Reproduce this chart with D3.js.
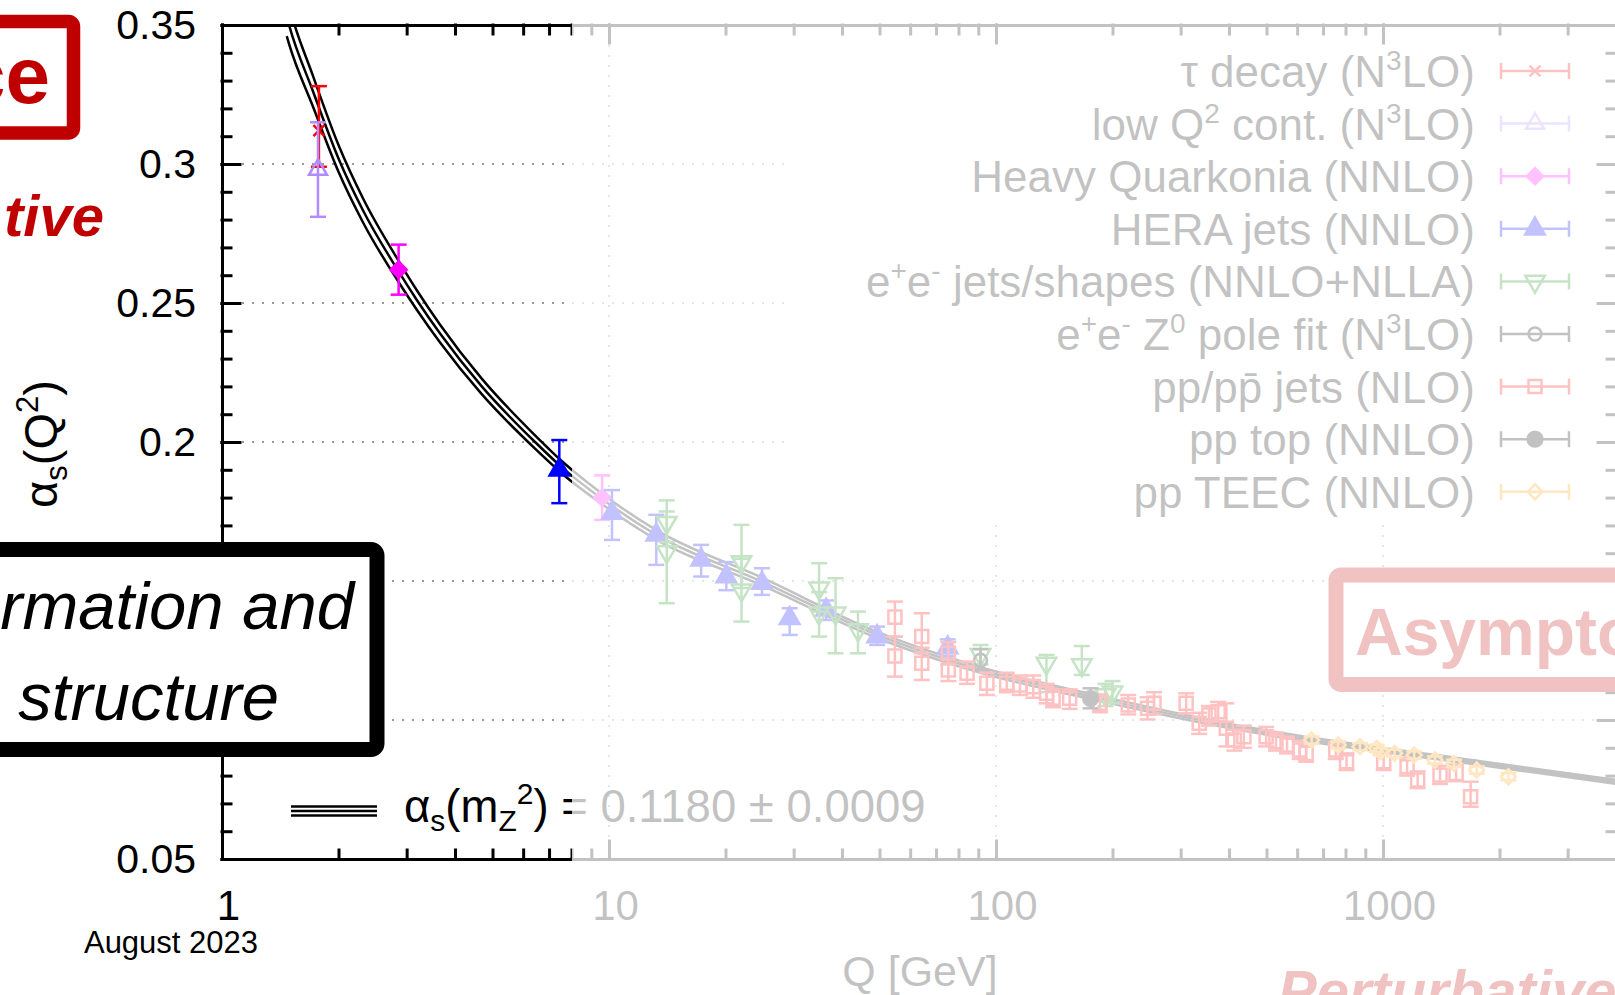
<!DOCTYPE html>
<html>
<head>
<meta charset="utf-8">
<script src="https://cdn.jsdelivr.net/npm/d3@7"></script>
<style>
body { margin: 0; background: #fff; }
svg text { font-family: "Liberation Sans", Arial, sans-serif; }
</style>
</head>
<body>
<div id="chart"></div>
<script>
var width = 1615;
var height = 995;

// world average running and its band half-width
var curveQ =     [1.47, 1.49, 1.72, 2.0, 2.32, 2.87, 3.19, 3.66, 4.69, 6.44, 7.61, 9.6, 13.25, 24.85, 49.3, 91.2, 176.6, 409, 1803, 3981];
var curveAlpha = [0.353, 0.350, 0.326, 0.302, 0.283, 0.261, 0.251, 0.239, 0.220, 0.200, 0.1905, 0.1795, 0.1666, 0.1498, 0.1306, 0.118, 0.1084, 0.0976, 0.0844, 0.0778];
var curveErr =   [0.0070, 0.0068, 0.0055, 0.0048, 0.0043, 0.0038, 0.0035, 0.0032, 0.0028, 0.0024, 0.0022, 0.0019, 0.0017, 0.0014, 0.0011, 0.0010, 0.0009, 0.0008, 0.0007, 0.0007];
var alphaMz = 0.1180;
var alphaMzErr = 0.0009;

// measurements: q = Q [GeV], a = alpha_s, lo/hi = error bar ends
var tauDecay = [{q: 1.78, a: 0.312, lo: 0.299, hi: 0.328}];
var lowQ2 = [{q: 1.77, a: 0.298, lo: 0.281, hi: 0.315}];
var quarkonia = [
  {q: 2.86, a: 0.262, lo: 0.253, hi: 0.271},
  {q: 9.6, a: 0.180, lo: 0.172, hi: 0.188}
];
var heraJets = [
  {q: 7.44, a: 0.190, lo: 0.178, hi: 0.2007},
  {q: 10.18, a: 0.1744, lo: 0.1648, hi: 0.1827},
  {q: 13.25, a: 0.1666, lo: 0.1558, hi: 0.1738},
  {q: 17.3, a: 0.1576, lo: 0.1516, hi: 0.1630},
  {q: 20.1, a: 0.1516, lo: 0.1467, hi: 0.1568},
  {q: 24.85, a: 0.1492, lo: 0.1450, hi: 0.1546},
  {q: 29.3, a: 0.1366, lo: 0.1306, hi: 0.1402},
  {q: 36.4, a: 0.1396, lo: 0.1360, hi: 0.1430},
  {q: 49.3, a: 0.1300, lo: 0.1270, hi: 0.1336},
  {q: 75.0, a: 0.1260, lo: 0.1230, hi: 0.1290}
];
var eeJets = [
  {q: 14.1, a: 0.171, lo: 0.164, hi: 0.179},
  {q: 14.1, a: 0.1605, lo: 0.142, hi: 0.175},
  {q: 22.0, a: 0.1569, lo: 0.1475, hi: 0.1702},
  {q: 22.0, a: 0.1467, lo: 0.1354, hi: 0.158},
  {q: 34.9, a: 0.1474, lo: 0.1390, hi: 0.1564},
  {q: 34.9, a: 0.1384, lo: 0.1300, hi: 0.146},
  {q: 38.5, a: 0.1384, lo: 0.1240, hi: 0.1510},
  {q: 44.0, a: 0.1324, lo: 0.1240, hi: 0.1390},
  {q: 91.2, a: 0.1235, lo: 0.1200, hi: 0.1270},
  {q: 135, a: 0.1204, lo: 0.1100, hi: 0.1234},
  {q: 166.6, a: 0.1198, lo: 0.1162, hi: 0.1266},
  {q: 191.8, a: 0.1090, lo: 0.1050, hi: 0.1130},
  {q: 200, a: 0.1100, lo: 0.1060, hi: 0.1140}
];
var zPole = [{q: 91.2, a: 0.1215, lo: 0.1180, hi: 0.1255}];
var ppJets = [
  {q: 54.8, a: 0.137, lo: 0.130, hi: 0.1426}, {q: 54.8, a: 0.123, lo: 0.1156, hi: 0.130},
  {q: 64.3, a: 0.130, lo: 0.124, hi: 0.1384}, {q: 64.3, a: 0.1204, lo: 0.1144, hi: 0.126},
  {q: 75.3, a: 0.124, lo: 0.120, hi: 0.128}, {q: 75.3, a: 0.118, lo: 0.114, hi: 0.122},
  {q: 84.2, a: 0.1168, lo: 0.113, hi: 0.121}, {q: 94.7, a: 0.1132, lo: 0.109, hi: 0.117},
  {q: 106.6, a: 0.1132, lo: 0.110, hi: 0.117}, {q: 115.3, a: 0.1126, lo: 0.109, hi: 0.116},
  {q: 124.8, a: 0.112, lo: 0.108, hi: 0.116}, {q: 135.1, a: 0.1096, lo: 0.106, hi: 0.113},
  {q: 140.4, a: 0.1078, lo: 0.1046, hi: 0.1110}, {q: 155, a: 0.1078, lo: 0.104, hi: 0.111},
  {q: 185.6, a: 0.106, lo: 0.1028, hi: 0.1092}, {q: 219.7, a: 0.1054, lo: 0.102, hi: 0.109},
  {q: 246.4, a: 0.1042, lo: 0.1002, hi: 0.1082}, {q: 256, a: 0.106, lo: 0.102, hi: 0.110},
  {q: 310, a: 0.106, lo: 0.1024, hi: 0.1096}, {q: 335, a: 0.0988, lo: 0.095, hi: 0.1026},
  {q: 355, a: 0.1018, lo: 0.098, hi: 0.105}, {q: 375, a: 0.103, lo: 0.0995, hi: 0.1065},
  {q: 393.8, a: 0.097, lo: 0.0905, hi: 0.106}, {q: 413, a: 0.0928, lo: 0.089, hi: 0.0965},
  {q: 437, a: 0.094, lo: 0.090, hi: 0.098}, {q: 499, a: 0.094, lo: 0.0905, hi: 0.0975},
  {q: 529, a: 0.0922, lo: 0.089, hi: 0.0955}, {q: 565, a: 0.091, lo: 0.088, hi: 0.094},
  {q: 609, a: 0.0892, lo: 0.086, hi: 0.0925}, {q: 633, a: 0.088, lo: 0.085, hi: 0.091},
  {q: 755, a: 0.0892, lo: 0.086, hi: 0.092}, {q: 805, a: 0.085, lo: 0.082, hi: 0.088},
  {q: 1004, a: 0.085, lo: 0.082, hi: 0.088}, {q: 1154, a: 0.0832, lo: 0.080, hi: 0.0865},
  {q: 1229, a: 0.0784, lo: 0.0755, hi: 0.0815}, {q: 1404, a: 0.0802, lo: 0.077, hi: 0.0835},
  {q: 1545, a: 0.0808, lo: 0.078, hi: 0.084}, {q: 1684, a: 0.0724, lo: 0.0688, hi: 0.0778}
];
var ppTop = [{q: 175.5, a: 0.1078, lo: 0.1042, hi: 0.1114}];
var ppTeec = [
  {q: 654, a: 0.0928, lo: 0.0915, hi: 0.0941}, {q: 766, a: 0.0910, lo: 0.0897, hi: 0.0923},
  {q: 872, a: 0.0904, lo: 0.0891, hi: 0.0917}, {q: 963, a: 0.0898, lo: 0.0885, hi: 0.0911},
  {q: 985, a: 0.0886, lo: 0.0873, hi: 0.0899}, {q: 1071, a: 0.0880, lo: 0.0867, hi: 0.0893},
  {q: 1204, a: 0.0874, lo: 0.0861, hi: 0.0887}, {q: 1362, a: 0.0856, lo: 0.0843, hi: 0.0869},
  {q: 1525, a: 0.0844, lo: 0.0831, hi: 0.0857}, {q: 1747, a: 0.0820, lo: 0.0807, hi: 0.0833},
  {q: 2109, a: 0.0796, lo: 0.0783, hi: 0.0809}
];

// legend labels, pieces marked "sup" are superscripts
var legendLabels = [
  [["\u03c4 decay (N"], ["3", "sup"], ["LO)"]],
  [["low Q"], ["2", "sup"], [" cont. (N"], ["3", "sup"], ["LO)"]],
  [["Heavy Quarkonia (NNLO)"]],
  [["HERA jets (NNLO)"]],
  [["e"], ["+", "sup"], ["e"], ["-", "sup"], [" jets/shapes (NNLO+NLLA)"]],
  [["e"], ["+", "sup"], ["e"], ["-", "sup"], [" Z"], ["0", "sup"], [" pole fit (N"], ["3", "sup"], ["LO)"]],
  [["pp/pp\u0304 jets (NLO)"]],
  [["pp top (NNLO)"]],
  [["pp TEEC (NNLO)"]]
];

var gridY = [0.1, 0.15, 0.2, 0.25, 0.3];
var gridX = [10, 100, 1000];

var x = d3.scaleLog().domain([1, 4000]).range([222, 1616]);
var y = d3.scaleLinear().domain([0.05, 0.35]).range([859, 25]);

var xShape = {
  draw: function(ctx, size) {
    var r = Math.sqrt(size) / 2;
    ctx.moveTo(-r, -r); ctx.lineTo(r, r);
    ctx.moveTo(-r, r); ctx.lineTo(r, -r);
  }
};

var series = [
  {label: legendLabels[0], data: tauDecay, color: "#ff0000", shape: xShape, size: 120, rot: 0, filled: false},
  {label: legendLabels[1], data: lowQ2, color: "#b08cff", shape: d3.symbolTriangle, size: 140, rot: 0, filled: false},
  {label: legendLabels[2], data: quarkonia, color: "#ff00ff", shape: d3.symbolSquare, size: 130, rot: 45, filled: true},
  {label: legendLabels[3], data: heraJets, color: "#0000ff", shape: d3.symbolTriangle, size: 165, rot: 0, filled: true},
  {label: legendLabels[4], data: eeJets, color: "#108a10", shape: d3.symbolTriangle, size: 165, rot: 180, filled: false},
  {label: legendLabels[5], data: zPole, color: "#000000", shape: d3.symbolCircle, size: 130, rot: 0, filled: false},
  {label: legendLabels[6], data: ppJets, color: "#ff0000", shape: d3.symbolSquare, size: 170, rot: 0, filled: false},
  {label: legendLabels[7], data: ppTop, color: "#000000", shape: d3.symbolCircle, size: 170, rot: 0, filled: true},
  {label: legendLabels[8], data: ppTeec, color: "#ff9900", shape: d3.symbolSquare, size: 110, rot: 45, filled: false}
];

var svg = d3.select("#chart").append("svg")
    .attr("width", width)
    .attr("height", height);

svg.append("rect").attr("width", width).attr("height", height).attr("fill", "#fff");

svg.append("defs").append("clipPath").attr("id", "plotclip")
    .append("rect")
    .attr("x", x.range()[0])
    .attr("y", y.range()[1])
    .attr("width", x.range()[1] - x.range()[0])
    .attr("height", y.range()[0] - y.range()[1]);

// dotted grid
var gridG = svg.append("g")
    .attr("stroke", "#999")
    .attr("stroke-width", 2)
    .attr("stroke-dasharray", "2,8");
gridG.selectAll(".gy").data(gridY).enter().append("line")
    .attr("x1", x.range()[0]).attr("x2", x.range()[1])
    .attr("y1", function(d) { return y(d); })
    .attr("y2", function(d) { return y(d); });
gridG.selectAll(".gx").data(gridX).enter().append("line")
    .attr("x1", function(d) { return x(d); })
    .attr("x2", function(d) { return x(d); })
    .attr("y1", y.range()[1]).attr("y2", y.range()[0]);

// the band: central value and its upper / lower edge
var curvePts = curveQ.map(function(q, i) { return {q: q, a: curveAlpha[i], e: curveErr[i]}; });
var bandG = svg.append("g").attr("clip-path", "url(#plotclip)")
    .attr("fill", "none").attr("stroke", "#000").attr("stroke-width", 2.5).attr("stroke-linejoin", "round");
[-1, 0, 1].forEach(function(sgn) {
  var line = d3.line()
      .x(function(d) { return x(d.q); })
      .y(function(d) { return y(d.a + sgn * d.e); })
      .curve(d3.curveMonotoneX);
  bandG.append("path").attr("d", line(curvePts));
});

function marker(sel, s) {
  sel.append("path")
      .attr("d", d3.symbol().type(s.shape).size(s.size))
      .attr("fill", s.filled ? s.color : "none")
      .attr("stroke", s.color)
      .attr("stroke-width", 2.5);
}

// measurements with error bars
series.forEach(function(s) {
  var g = svg.append("g").attr("stroke", s.color).attr("stroke-width", 2.5);
  var pts = g.selectAll("g").data(s.data).enter().append("g")
      .attr("transform", function(d) { return "translate(" + x(d.q) + ",0)"; });
  pts.append("line").attr("y1", function(d) { return y(d.lo); }).attr("y2", function(d) { return y(d.hi); });
  pts.append("line").attr("x1", -8).attr("x2", 8)
      .attr("y1", function(d) { return y(d.hi); }).attr("y2", function(d) { return y(d.hi); });
  pts.append("line").attr("x1", -8).attr("x2", 8)
      .attr("y1", function(d) { return y(d.lo); }).attr("y2", function(d) { return y(d.lo); });
  var m = pts.append("g")
      .attr("transform", function(d) { return "translate(0," + y(d.a) + ") rotate(" + s.rot + ")"; });
  marker(m, s);
});

// legend box
var legG = svg.append("g");
legG.append("rect").attr("x", 785).attr("y", 30).attr("width", 813).attr("height", 490).attr("fill", "#fff");
series.forEach(function(s, i) {
  var by = 87 + i * 52.6;
  var t = legG.append("text")
      .attr("x", 1475).attr("y", by)
      .attr("text-anchor", "end")
      .attr("font-size", 44);
  var shift = 0;
  s.label.forEach(function(p) {
    var ts = t.append("tspan").text(p[0]);
    if (p[1] == "sup") {
      ts.attr("font-size", 28).attr("dy", -17 - shift);
      shift = -17;
    } else {
      ts.attr("dy", -shift);
      shift = 0;
    }
  });
  var sg = legG.append("g").attr("transform", "translate(1535," + (by - 16) + ")")
      .attr("stroke", s.color).attr("stroke-width", 2.5);
  sg.append("line").attr("x1", -34).attr("x2", 34);
  sg.append("line").attr("x1", -34).attr("x2", -34).attr("y1", -8).attr("y2", 8);
  sg.append("line").attr("x1", 34).attr("x2", 34).attr("y1", -8).attr("y2", 8);
  marker(sg.append("g").attr("transform", "rotate(" + s.rot + ")"), s);
});

// axes
function styleAxis(g) {
  g.selectAll("path, line").attr("stroke", "#000").attr("stroke-width", 3).attr("stroke-linecap", "square");
  g.attr("font-family", "Liberation Sans, Arial, sans-serif");
}
var minorY = y.ticks(30);
var majorY = y.ticks(6);
var minorX = x.ticks();
var majorX = minorX.filter(function(d) { return Math.abs(Math.log10(d) % 1) < 1e-9; });

svg.append("g").attr("transform", "translate(" + x.range()[0] + ",0)")
    .call(d3.axisLeft(y).tickValues(minorY).tickSizeInner(-9).tickSizeOuter(0).tickFormat(""))
    .call(styleAxis);
svg.append("g").attr("transform", "translate(" + x.range()[0] + ",0)")
    .call(d3.axisLeft(y).tickValues(majorY).tickSizeInner(-18).tickSizeOuter(0).tickPadding(26)
      .tickFormat(d3.format(".2~f")))
    .call(styleAxis)
    .attr("font-size", 41);
svg.append("g").attr("transform", "translate(" + x.range()[1] + ",0)")
    .call(d3.axisRight(y).tickValues(minorY).tickSizeInner(-9).tickSizeOuter(0).tickFormat(""))
    .call(styleAxis);
svg.append("g").attr("transform", "translate(" + x.range()[1] + ",0)")
    .call(d3.axisRight(y).tickValues(majorY).tickSizeInner(-18).tickSizeOuter(0).tickFormat(""))
    .call(styleAxis);

svg.append("g").attr("transform", "translate(0," + y.range()[0] + ")")
    .call(d3.axisBottom(x).tickValues(minorX).tickSizeInner(-9).tickSizeOuter(0).tickFormat(""))
    .call(styleAxis);
svg.append("g").attr("transform", "translate(0," + y.range()[0] + ")")
    .call(d3.axisBottom(x).tickValues(majorX).tickSizeInner(-18).tickSizeOuter(0).tickPadding(31)
      .tickFormat(d3.format("d")))
    .call(styleAxis)
    .attr("font-size", 42)
    .selectAll("text").attr("dx", 6);
svg.append("g").attr("transform", "translate(0," + y.range()[1] + ")")
    .call(d3.axisTop(x).tickValues(minorX).tickSizeInner(-9).tickSizeOuter(0).tickFormat(""))
    .call(styleAxis);
svg.append("g").attr("transform", "translate(0," + y.range()[1] + ")")
    .call(d3.axisTop(x).tickValues(majorX).tickSizeInner(-18).tickSizeOuter(0).tickFormat(""))
    .call(styleAxis);

// axis titles
var yTitle = svg.append("text")
    .attr("transform", "translate(57,444) rotate(-90)")
    .attr("text-anchor", "middle")
    .attr("font-size", 47);
yTitle.append("tspan").text("\u03b1");
yTitle.append("tspan").text("s").attr("font-size", 31).attr("dy", 10);
yTitle.append("tspan").text("(Q").attr("dy", -10);
yTitle.append("tspan").text("2").attr("font-size", 31).attr("dy", -19);
yTitle.append("tspan").text(")").attr("dy", 19);

svg.append("text").attr("x", 920).attr("y", 986).attr("text-anchor", "middle")
    .attr("font-size", 43).text("Q [GeV]");
svg.append("text").attr("x", 171).attr("y", 953).attr("text-anchor", "middle")
    .attr("font-size", 31).text("August 2023");

// alpha_s(mZ) key
var keyG = svg.append("g").attr("stroke", "#000").attr("stroke-width", 2.5);
[-4.5, 0, 4.5].forEach(function(off) {
  keyG.append("path").attr("d", d3.line()([[291, 811 + off], [377, 811 + off]]));
});
var keyT = svg.append("text").attr("x", 404).attr("y", 822).attr("font-size", 45.5);
keyT.append("tspan").text("\u03b1");
keyT.append("tspan").text("s").attr("font-size", 30).attr("dy", 9);
keyT.append("tspan").text("(m").attr("dy", -9);
keyT.append("tspan").text("Z").attr("font-size", 30).attr("dy", 9);
keyT.append("tspan").text("2").attr("font-size", 30).attr("dy", -27);
keyT.append("tspan").text(") = " + alphaMz.toFixed(4) + " \u00b1 " + alphaMzErr.toFixed(4)).attr("dy", 18);

// slide annotations on the right (faded with the plot)
var noteFont = "Open Sans, Noto Sans, sans-serif";
svg.append("rect").attr("x", 1336).attr("y", 575).attr("width", 400).attr("height", 109.5).attr("rx", 5)
    .attr("fill", "#fff").attr("stroke", "#c00000").attr("stroke-width", 15);
svg.append("text").attr("x", 1355).attr("y", 655).attr("font-family", noteFont).attr("font-weight", "bold")
    .attr("font-size", 66).attr("fill", "#c00000").text("Asymptotic freedom");
svg.append("text").attr("x", 1278).attr("y", 1011).attr("font-family", noteFont).attr("font-weight", "bold")
    .attr("font-style", "italic").attr("font-size", 58).attr("fill", "#c00000").text("Perturbative");

// fade everything right of the highlighted low-Q part
svg.append("rect").attr("x", 572).attr("y", 0).attr("width", width - 572).attr("height", height)
    .attr("fill", "#fff").attr("opacity", 0.76);

// slide annotations on the left
svg.append("rect").attr("x", -60).attr("y", 21.5).attr("width", 133.5).attr("height", 111.5).attr("rx", 5)
    .attr("fill", "#fff").attr("stroke", "#c00000").attr("stroke-width", 13.5);
svg.append("text").attr("x", 50).attr("y", 103).attr("text-anchor", "end").attr("font-family", noteFont)
    .attr("font-weight", "bold").attr("font-size", 80).attr("fill", "#c00000").text("ce");
svg.append("text").attr("x", 104).attr("y", 236).attr("text-anchor", "end").attr("font-family", noteFont)
    .attr("font-weight", "bold").attr("font-style", "italic").attr("font-size", 58).attr("fill", "#c00000").text("tive");

svg.append("rect").attr("x", -20).attr("y", 549.5).attr("width", 397).attr("height", 200).attr("rx", 6)
    .attr("fill", "#fff").attr("stroke", "#000").attr("stroke-width", 15);
svg.append("text").attr("x", 354).attr("y", 629).attr("text-anchor", "end").attr("font-family", noteFont)
    .attr("font-style", "italic").attr("font-size", 67).attr("fill", "#000").text("rmation and");
svg.append("text").attr("x", 279).attr("y", 720).attr("text-anchor", "end").attr("font-family", noteFont)
    .attr("font-style", "italic").attr("font-size", 67).attr("fill", "#000").text("structure");
</script>
</body>
</html>
